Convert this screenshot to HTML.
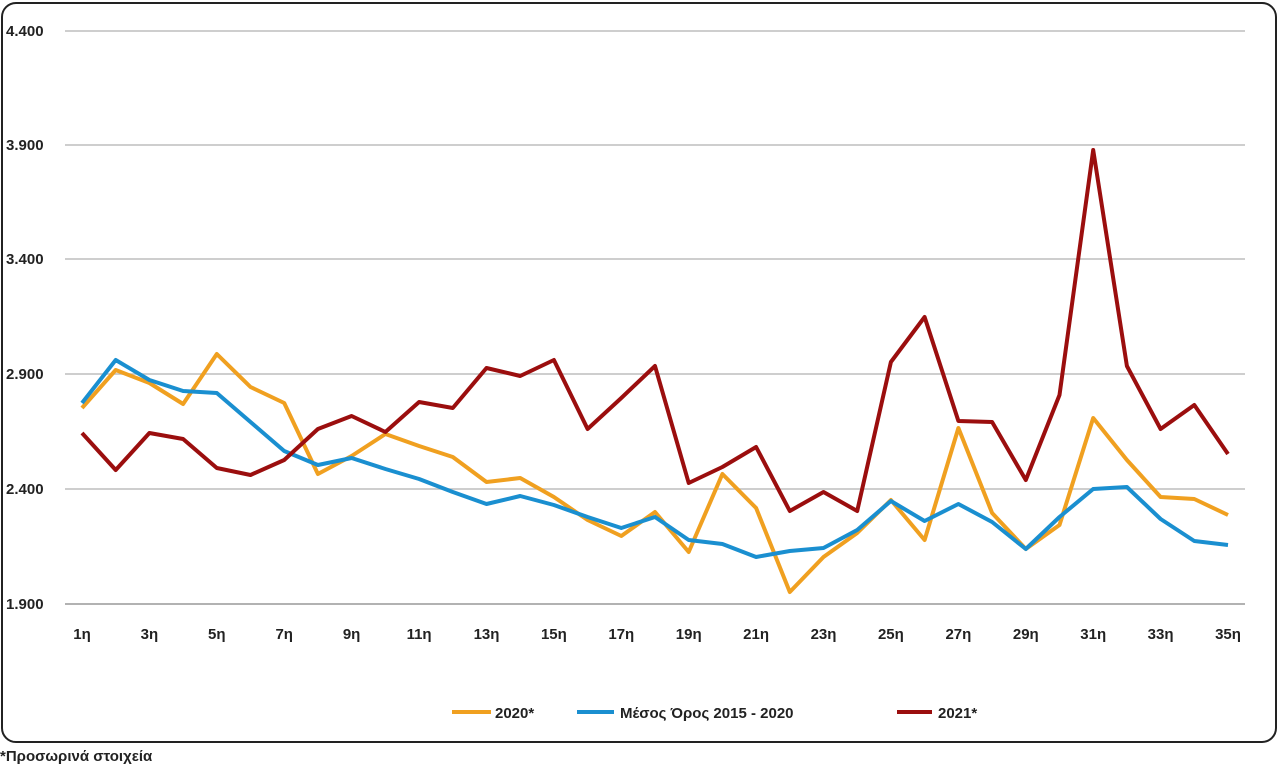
<!DOCTYPE html>
<html><head><meta charset="utf-8"><style>
html,body{margin:0;padding:0;background:#fff;}
body{width:1280px;height:768px;overflow:hidden;font-family:"Liberation Sans",sans-serif;}
</style></head><body>
<svg width="1280" height="768" xmlns="http://www.w3.org/2000/svg" font-family="Liberation Sans, sans-serif">
<rect x="2" y="3" width="1274" height="739" rx="14" fill="#fff" stroke="#222" stroke-width="2"/>
<g stroke="#bdbdbd" stroke-width="1.5">
<line x1="65" x2="1245" y1="31" y2="31"/><line x1="65" x2="1245" y1="145" y2="145"/>
<line x1="65" x2="1245" y1="259" y2="259"/><line x1="65" x2="1245" y1="374" y2="374"/>
<line x1="65" x2="1245" y1="489" y2="489"/>
</g>
<line x1="65" x2="1245" y1="604" y2="604" stroke="#999" stroke-width="1.5"/>
<g font-size="15" font-weight="bold" fill="#222">
<text x="6" y="36">4.400</text><text x="6" y="150">3.900</text><text x="6" y="264">3.400</text>
<text x="6" y="379">2.900</text><text x="6" y="494">2.400</text><text x="6" y="609">1.900</text>
</g>
<g font-size="15" font-weight="bold" fill="#222" text-anchor="middle" id="xl"></g>
<g fill="none" stroke-width="4" stroke-linejoin="round">
<polyline id="o" stroke="#f0a020"/>
<polyline id="b" stroke="#1a8fd0"/>
<polyline id="r" stroke="#9b0e0e"/>
</g>
<g font-size="15" font-weight="bold" fill="#222">
<line x1="452" x2="491" y1="712" y2="712" stroke="#f0a020" stroke-width="4"/><text x="495" y="718">2020*</text>
<line x1="577" x2="614" y1="712" y2="712" stroke="#1a8fd0" stroke-width="4"/><text x="620" y="718">Μέσος Όρος 2015 - 2020</text>
<line x1="897" x2="932" y1="712" y2="712" stroke="#9b0e0e" stroke-width="4"/><text x="938" y="718">2021*</text>
<text x="0" y="761">*Προσωρινά στοιχεία</text>
</g>
</svg>
<script>
var o=[408,370,383,404,354,387,403,474,456,434,446,457,482,478,497,520,536,512,552,474,508,592,557,533,500,540,428,513,549,525,418,460,497,499,515];
var b=[403,360,380,391,393,422,451,465,458,469,479,492,504,496,505,517,528,517,540,544,557,551,548,530,501,521,504,522,549,517,489,487,519,541,545];
var r=[433,470,433,439,468,475,460,429,416,432,402,408,368,376,360,429,398,366,483,467,447,511,492,511,362,317,421,422,480,395,150,366,429,405,454];
function X(i){return 82+i*(1146/34);}
function p(a){return a.map(function(y,i){return X(i).toFixed(1)+","+y}).join(" ");}
document.getElementById('o').setAttribute('points',p(o));
document.getElementById('b').setAttribute('points',p(b));
document.getElementById('r').setAttribute('points',p(r));
var g=document.getElementById('xl'),s='';
for(var i=0;i<35;i+=2){s+='<text x="'+X(i).toFixed(1)+'" y="639">'+(i+1)+'η</text>';}
g.innerHTML=s;
</script>
</body></html>
